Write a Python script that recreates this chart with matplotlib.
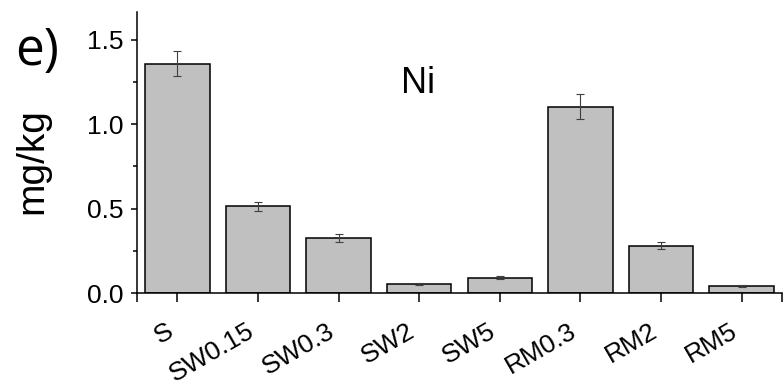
import matplotlib
matplotlib.use('Agg')
import matplotlib.pyplot as plt
import numpy as np

samples = ['S', 'SW0.15', 'SW0.3', 'SW2', 'SW5', 'RM0.3', 'RM2', 'RM5']
ni_mean = [1.36, 0.515, 0.328, 0.055, 0.091, 1.105, 0.280, 0.042]
ni_err = [0.077, 0.027, 0.024, 0.006, 0.007, 0.073, 0.022, 0.006]

plt.rcParams['font.family'] = ['Liberation Sans', 'DejaVu Sans']

fig = plt.figure(figsize=(7.83, 3.88), dpi=100)
ax = fig.add_axes([0.175, 0.2448, 0.8238, 0.7242])

x = np.arange(len(samples))
ax.bar(x, ni_mean, width=0.8, color='#c0c0c0', edgecolor='black', linewidth=1.1, zorder=2)
ax.errorbar(x, ni_mean, yerr=ni_err, fmt='none', ecolor='#404040',
            elinewidth=0.8, capsize=2.6, capthick=0.8, zorder=3)

ax.set_xlim(-0.5, len(samples) - 0.5)
ax.set_ylim(0, 1.665)
ax.set_yticks([0, 0.5, 1.0, 1.5])
ax.set_yticks(np.arange(0.25, 1.6, 0.5), minor=True)
ax.set_xticks(x)
ax.set_xticks([-0.5, len(samples) - 0.5], minor=True)
ax.set_xticklabels(samples, rotation=30, ha='right', fontsize=19)

for lab in ax.get_yticklabels():
    lab.set_fontsize(19)

ax.tick_params(axis='y', which='major', direction='out', length=4.5, width=1.1, pad=5)
ax.tick_params(axis='y', which='minor', direction='out', length=2.8, width=1.1)
ax.tick_params(axis='x', which='both', direction='out', length=6.5, width=1.1, pad=12)

for side in ['top', 'right']:
    ax.spines[side].set_visible(False)
for side in ['left', 'bottom']:
    ax.spines[side].set_linewidth(1.1)

ax.set_ylabel('mg/kg', fontsize=28)
ax.yaxis.set_label_coords(-0.135, 0.47)

ax.text(0.436, 0.712, 'Ni', transform=ax.transAxes, fontsize=26,
        ha='center', va='baseline')

fig.text(15 / 783, 1 - 65 / 388, 'e)', fontsize=37, family=['Open Sans', 'DejaVu Sans'],
         ha='left', va='baseline')

fig.savefig('out.png', dpi=100)
